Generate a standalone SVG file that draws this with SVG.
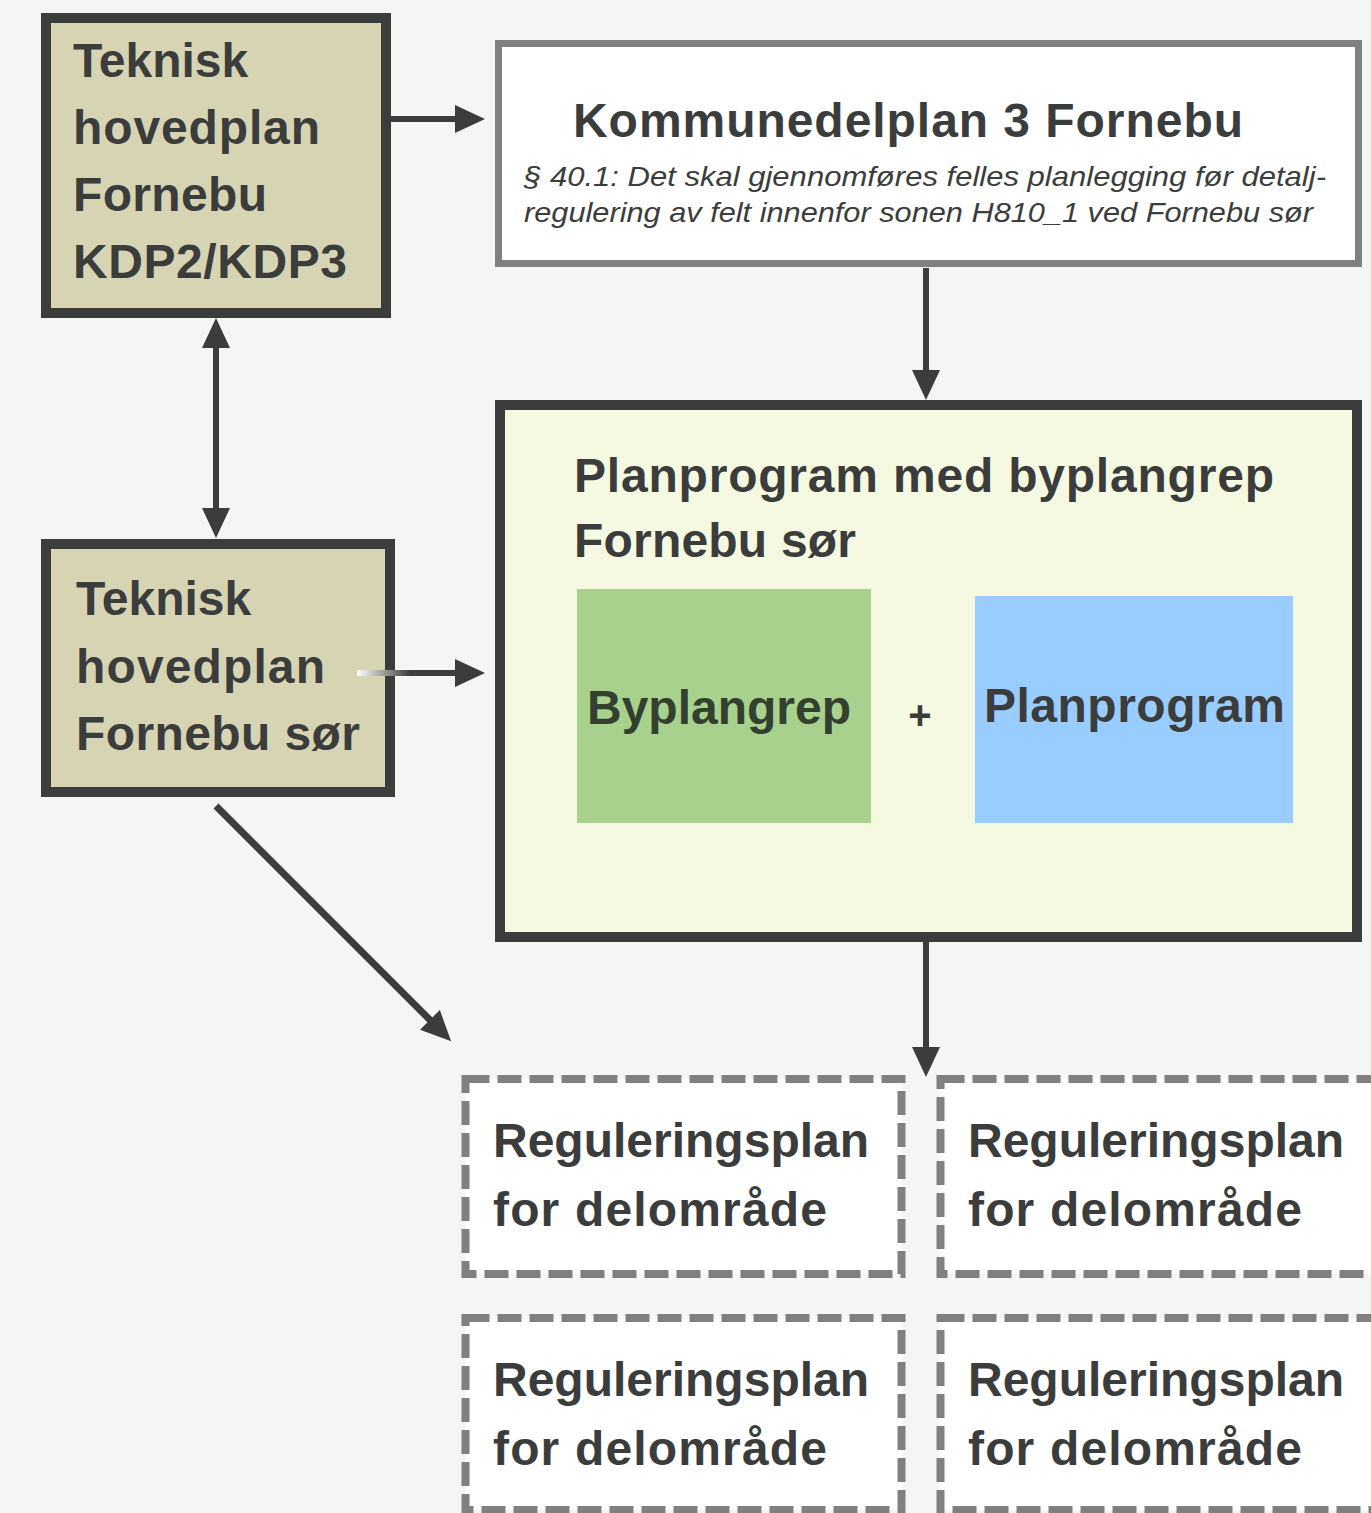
<svg xmlns="http://www.w3.org/2000/svg" width="1371" height="1513" viewBox="0 0 1371 1513">
<style>
.t{font-family:"Liberation Sans","Arial",sans-serif;font-weight:bold;font-size:48px;fill:#3B3D3C}
.it{font-family:"Liberation Sans","Arial",sans-serif;font-style:italic;font-size:28px;fill:#3B3D3C}
.tan{fill:#D7D4B4;stroke:#3B3D3C;stroke-width:10}
.dash{fill:#FFFFFF;stroke:#808080;stroke-width:8;stroke-dasharray:24 8}
.conn{fill:none;stroke:#3B3D3C;stroke-width:6}
</style>
<defs>
<marker id="ah" markerUnits="userSpaceOnUse" viewBox="0 0 30 28" markerWidth="30" markerHeight="28" refX="10" refY="14" orient="auto-start-reverse">
<path d="M0,0 L30,14 L0,28 Z" fill="#3B3D3C"/>
</marker>
<linearGradient id="fade" gradientUnits="userSpaceOnUse" x1="357" y1="0" x2="410" y2="0">
<stop offset="0" stop-color="#FFFFFF"/>
<stop offset="1" stop-color="#3B3D3C"/>
</linearGradient>
</defs>
<rect x="0" y="0" width="1371" height="1513" fill="#F4F6F3"/>

<g id="teknisk-kdp">
<rect class="tan" x="46" y="18" width="340" height="295"/>
<text class="t" x="73" y="77">Teknisk</text>
<text class="t" x="73" y="144" textLength="247">hovedplan</text>
<text class="t" x="73" y="211" textLength="194">Fornebu</text>
<text class="t" x="73" y="278" textLength="274">KDP2/KDP3</text>
</g>

<g id="kommunedelplan">
<rect x="498.5" y="43.5" width="860" height="220" fill="#FFFFFF" stroke="#808080" stroke-width="7"/>
<text class="t" x="573" y="137" textLength="670">Kommunedelplan 3 Fornebu</text>
<text class="it" x="524" y="186" textLength="802" lengthAdjust="spacingAndGlyphs">§ 40.1: Det skal gjennomføres felles planlegging før detalj-</text>
<text class="it" x="524" y="222" textLength="789" lengthAdjust="spacingAndGlyphs">regulering av felt innenfor sonen H810_1 ved Fornebu sør</text>
</g>

<g id="teknisk-sor">
<rect class="tan" x="46" y="544" width="344" height="248"/>
<text class="t" x="76" y="615">Teknisk</text>
<text class="t" x="76" y="683" textLength="249">hovedplan</text>
<text class="t" x="76" y="750" textLength="284">Fornebu sør</text>
</g>

<g id="planprogram-byplangrep">
<rect x="500" y="405" width="857" height="532" fill="#F6F9E1" stroke="#3B3D3C" stroke-width="10"/>
<text class="t" x="574" y="492" textLength="700">Planprogram med byplangrep</text>
<text class="t" x="574" y="557" textLength="282">Fornebu sør</text>
</g>

<g id="byplangrep">
<rect x="577" y="589" width="294" height="234" fill="#A9D18E"/>
<text class="t" x="587" y="724" style="fill:#33402F">Byplangrep</text>
</g>

<g id="plus">
<text class="t" x="920" y="729" text-anchor="middle" style="font-size:40px">+</text>
</g>

<g id="planprogram">
<rect x="975" y="596" width="318" height="227" fill="#99CCFF"/>
<text class="t" x="984" y="722" textLength="301">Planprogram</text>
</g>

<g id="reg-1">
<rect class="dash" x="465.5" y="1079" width="436" height="195"/>
<text class="t" x="493" y="1157">Reguleringsplan</text>
<text class="t" x="493" y="1226" textLength="334">for delområde</text>
</g>
<g id="reg-2">
<rect class="dash" x="940.5" y="1079" width="450" height="195"/>
<text class="t" x="968" y="1157">Reguleringsplan</text>
<text class="t" x="968" y="1226" textLength="334">for delområde</text>
</g>
<g id="reg-3">
<rect class="dash" x="465.5" y="1318" width="436" height="192"/>
<text class="t" x="493" y="1396">Reguleringsplan</text>
<text class="t" x="493" y="1465" textLength="334">for delområde</text>
</g>
<g id="reg-4">
<rect class="dash" x="940.5" y="1318" width="450" height="192"/>
<text class="t" x="968" y="1396">Reguleringsplan</text>
<text class="t" x="968" y="1465" textLength="334">for delområde</text>
</g>

<g id="connectors">
<path class="conn" d="M391,119 L465,119" marker-end="url(#ah)"/>
<path class="conn" d="M216,338 L216,518" marker-start="url(#ah)" marker-end="url(#ah)"/>
<path class="conn" d="M357,673 L465,673" style="stroke:url(#fade)" marker-end="url(#ah)"/>
<path class="conn" d="M926,268 L926,380" marker-end="url(#ah)"/>
<path class="conn" d="M926,942 L926,1057" marker-end="url(#ah)"/>
<path class="conn" d="M216,806 L437,1027" style="stroke-width:7" marker-end="url(#ah)"/>
</g>
</svg>
